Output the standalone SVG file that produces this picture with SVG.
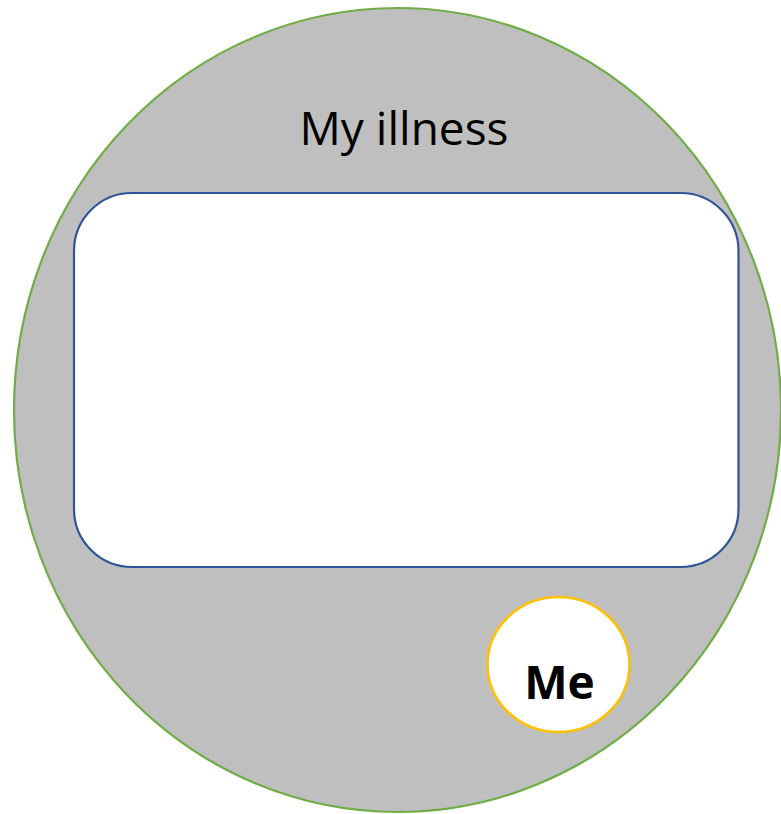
<svg xmlns="http://www.w3.org/2000/svg" width="781" height="814" viewBox="0 0 781 814">
<style>
.lbl{font-family:"Open Sans","Liberation Sans",sans-serif;fill:#000;text-anchor:middle}
</style>
<rect width="781" height="814" fill="#fff"/>
<g id="illness">
<ellipse cx="397.5" cy="410" rx="383.5" ry="402" fill="#BFBFBF" stroke="#70AD47" stroke-width="2.2"/>
<text class="lbl" x="404" y="145" font-size="46">My illness</text>
</g>
<g id="box">
<rect x="74" y="193" width="664.5" height="374" rx="58" ry="58" fill="#fff" stroke="#2F5597" stroke-width="2.2"/>
</g>
<g id="me">
<ellipse cx="558.5" cy="664.5" rx="71" ry="67.5" fill="#fff" stroke="#FFC000" stroke-width="2.5"/>
<text class="lbl" x="559.5" y="699" font-size="46" font-weight="bold">Me</text>
</g>
<g id="connectors"/>
</svg>
